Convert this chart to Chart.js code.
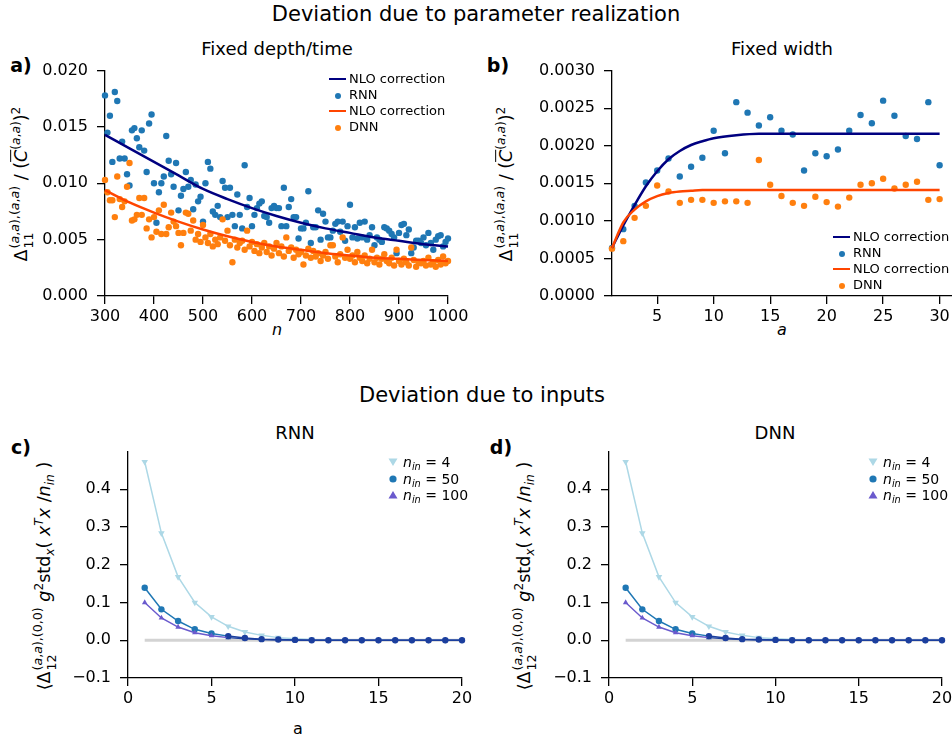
<!DOCTYPE html>
<html>
<head>
<meta charset="utf-8">
<script src="https://cdn.jsdelivr.net/npm/chart.js@4.4.1/dist/chart.umd.min.js"></script>
<style>
  body { margin: 0; width: 952px; height: 740px; overflow: hidden; background: #fff; position: relative;
         font-family: "DejaVu Sans", sans-serif; color: #000; }
  canvas { position: absolute; }
  .t { position: absolute; white-space: nowrap; transform: translate(-50%, -50%); }
  .sup { font-size: 21px; }
  .ttl { font-size: 18px; }
  .pl { font-size: 19px; font-weight: bold; }
  .ax { font-size: 16px; }
  .ylab { position: absolute; white-space: nowrap; transform: translate(-50%, -50%) rotate(-90deg); font-size: 17.5px; }
  .ss { display: inline-flex; flex-direction: column; vertical-align: middle; font-size: 0.72em; line-height: 1.1; margin-left: 1px; }
  sup { font-size: 0.7em; vertical-align: 0.55em; line-height: 0; }
  sub { font-size: 0.7em; vertical-align: -0.35em; line-height: 0; }
  .ov { text-decoration: overline; }
  .lg { position: absolute; font-size: 13px; white-space: nowrap; }
  .lg div { height: 16px; line-height: 16px; display: flex; align-items: center; }
  .hl { display: inline-block; width: 17px; height: 2.5px; margin-right: 3px; }
  .hd { display: inline-block; width: 17px; margin-right: 3px; text-align: center; }
  .hd span { display: inline-block; width: 6px; height: 6px; border-radius: 50%; vertical-align: middle; }
  .lgc { font-size: 14px; }
  .lgc div { height: 16.5px; line-height: 16.5px; }
  .mk { width: 12px; margin-right: 4px; display: inline-flex; justify-content: center; }
</style>
</head>
<body>

<div class="t sup" style="left:476px;top:14px">Deviation due to parameter realization</div>
<div class="t sup" style="left:482px;top:395px">Deviation due to inputs</div>

<div class="t pl" style="left:21px;top:65px">a)</div>
<div class="t ttl" style="left:277px;top:48px">Fixed depth/time</div>
<div class="t pl" style="left:498px;top:65px">b)</div>
<div class="t ttl" style="left:782px;top:48px">Fixed width</div>
<div class="t ax" style="left:277px;top:329px"><i>n</i></div>
<div class="t ax" style="left:782px;top:329px"><i>a</i></div>

<div class="t pl" style="left:21px;top:447px">c)</div>
<div class="t ttl" style="left:295px;top:432px">RNN</div>
<div class="t pl" style="left:501px;top:447px">d)</div>
<div class="t ttl" style="left:775px;top:432px">DNN</div>
<div class="t ax" style="left:298px;top:728px">a</div>

<div class="ylab" style="left:22px;top:184px">Δ<span class="ss"><span>(<i>a</i>,<i>a</i>),(<i>a</i>,<i>a</i>)</span><span>11</span></span> / (<span class="ov"><i>C</i></span><sup>(<i>a</i>,<i>a</i>)</sup>)<sup>2</sup></div>
<div class="ylab" style="left:507px;top:184px">Δ<span class="ss"><span>(<i>a</i>,<i>a</i>),(<i>a</i>,<i>a</i>)</span><span>11</span></span> / (<span class="ov"><i>C</i></span><sup>(<i>a</i>,<i>a</i>)</sup>)<sup>2</sup></div>
<div class="ylab" style="left:45px;top:576px">⟨Δ<span class="ss"><span>(<i>a</i>,<i>a</i>),(0,0)</span><span>12</span></span> <i>g</i><sup>2</sup>std<sub><i>x</i></sub>( <i>x</i><sup><i>T</i></sup><i>x</i> /<i>n</i><sub><i>in</i></sub> )</div>
<div class="ylab" style="left:525px;top:576px">⟨Δ<span class="ss"><span>(<i>a</i>,<i>a</i>),(0,0)</span><span>12</span></span> <i>g</i><sup>2</sup>std<sub><i>x</i></sub>( <i>x</i><sup><i>T</i></sup><i>x</i> /<i>n</i><sub><i>in</i></sub> )</div>

<canvas id="cA" width="440" height="278" style="left:40px;top:52px"></canvas>
<canvas id="cB" width="420" height="278" style="left:540px;top:52px"></canvas>
<canvas id="cC" width="430" height="277" style="left:60px;top:433px"></canvas>
<canvas id="cD" width="425" height="277" style="left:541px;top:433px"></canvas>

<div class="lg" style="left:329px;top:71px">
  <div><span class="hl" style="background:#000080"></span>NLO correction</div>
  <div><span class="hd"><span style="background:#1f77b4"></span></span>RNN</div>
  <div><span class="hl" style="background:#ff4500"></span>NLO correction</div>
  <div><span class="hd"><span style="background:#ff7f0e"></span></span>DNN</div>
</div>
<div class="lg" style="left:833px;top:229px">
  <div><span class="hl" style="background:#000080"></span>NLO correction</div>
  <div><span class="hd"><span style="background:#1f77b4"></span></span>RNN</div>
  <div><span class="hl" style="background:#ff4500"></span>NLO correction</div>
  <div><span class="hd"><span style="background:#ff7f0e"></span></span>DNN</div>
</div>
<div class="lg lgc" style="left:387px;top:454px">
  <div><span class="mk"><svg width="10" height="10"><polygon points="0.5,1.5 9.5,1.5 5,9" fill="#add8e6"/></svg></span><span><i>n</i><sub><i>in</i></sub> = 4</span></div>
  <div><span class="mk"><svg width="10" height="10"><circle cx="5" cy="5" r="3.6" fill="#1f77b4"/></svg></span><span><i>n</i><sub><i>in</i></sub> = 50</span></div>
  <div><span class="mk"><svg width="10" height="10"><polygon points="0.5,8.5 9.5,8.5 5,1" fill="#6a5acd"/></svg></span><span><i>n</i><sub><i>in</i></sub> = 100</span></div>
</div>
<div class="lg lgc" style="left:867px;top:454px">
  <div><span class="mk"><svg width="10" height="10"><polygon points="0.5,1.5 9.5,1.5 5,9" fill="#add8e6"/></svg></span><span><i>n</i><sub><i>in</i></sub> = 4</span></div>
  <div><span class="mk"><svg width="10" height="10"><circle cx="5" cy="5" r="3.6" fill="#1f77b4"/></svg></span><span><i>n</i><sub><i>in</i></sub> = 50</span></div>
  <div><span class="mk"><svg width="10" height="10"><polygon points="0.5,8.5 9.5,8.5 5,1" fill="#6a5acd"/></svg></span><span><i>n</i><sub><i>in</i></sub> = 100</span></div>
</div>

<script>
// ---- a) fixed depth/time ----
const nValues = [
  300, 305, 310, 315, 320, 325, 330, 335, 340, 345, 350, 355, 360, 365, 370, 375, 380, 385, 390, 395,
  400, 405, 410, 415, 420, 425, 430, 435, 440, 445, 450, 455, 460, 465, 470, 475, 480, 485, 490, 495,
  500, 505, 510, 515, 520, 525, 530, 535, 540, 545, 550, 555, 560, 565, 570, 575, 580, 585, 590, 595,
  600, 605, 610, 615, 620, 625, 630, 635, 640, 645, 650, 655, 660, 665, 670, 675, 680, 685, 690, 695,
  700, 705, 710, 715, 720, 725, 730, 735, 740, 745, 750, 755, 760, 765, 770, 775, 780, 785, 790, 795,
  800, 805, 810, 815, 820, 825, 830, 835, 840, 845, 850, 855, 860, 865, 870, 875, 880, 885, 890, 895,
  900, 905, 910, 915, 920, 925, 930, 935, 940, 945, 950, 955, 960, 965, 970, 975, 980, 985, 990, 995,
  1000
];
const rnnDepth = [
  0.0178, 0.0145, 0.0160, 0.0119, 0.0181, 0.0173, 0.0122, 0.0137, 0.0122, 0.0108,
  0.0098, 0.0147, 0.0149, 0.0140, 0.0132, 0.0147, 0.0129, 0.0110, 0.0153, 0.0161,
  0.0100, 0.0065, 0.0092, 0.0100, 0.0106, 0.0142, 0.0120, 0.0108, 0.0097, 0.0118,
  0.0076, 0.0089, 0.0095, 0.0110, 0.0097, 0.0103, 0.0077, 0.0099, 0.0084, 0.0088,
  0.0066, 0.0100, 0.0119, 0.0113, 0.0075, 0.0072, 0.0080, 0.0070, 0.0102, 0.0096,
  0.0070, 0.0096, 0.0072, 0.0062, 0.0090, 0.0072, 0.0060, 0.0116, 0.0079, 0.0087,
  0.0062, 0.0072, 0.0078, 0.0082, 0.0084, 0.0071, 0.0070, 0.0065, 0.0078, 0.0080,
  0.0078, 0.0078, 0.0062, 0.0096, 0.0062, 0.0079, 0.0086, 0.0070, 0.0070, 0.0051,
  0.0060, 0.0060, 0.0065, 0.0093, 0.0047, 0.0061, 0.0061, 0.0076, 0.0050, 0.0073,
  0.0066, 0.0052, 0.0052, 0.0058, 0.0064, 0.0066, 0.0057, 0.0066, 0.0049, 0.0062,
  0.0081, 0.0052, 0.0061, 0.0051, 0.0065, 0.0052, 0.0066, 0.0050, 0.0054, 0.0061,
  0.0045, 0.0052, 0.0050, 0.0048, 0.0061, 0.0060, 0.0058, 0.0055, 0.0052, 0.0038,
  0.0056, 0.0063, 0.0064, 0.0054, 0.0059, 0.0038, 0.0043, 0.0049, 0.0049, 0.0047,
  0.0052, 0.0045, 0.0056, 0.0047, 0.0041, 0.0050, 0.0053, 0.0054, 0.0044, 0.0048,
  0.0051
];
const dnnDepth = [
  0.0103, 0.0092, 0.0085, 0.0085, 0.0070, 0.0106, 0.0086, 0.0079, 0.0084, 0.0097,
  0.0118, 0.0067, 0.0068, 0.0072, 0.0087, 0.0072, 0.0087, 0.0060, 0.0068, 0.0052,
  0.0070, 0.0057, 0.0076, 0.0055, 0.0081, 0.0055, 0.0061, 0.0074, 0.0066, 0.0062,
  0.0056, 0.0045, 0.0056, 0.0074, 0.0073, 0.0058, 0.0067, 0.0050, 0.0055, 0.0048,
  0.0063, 0.0052, 0.0047, 0.0055, 0.0044, 0.0050, 0.0046, 0.0052, 0.0068, 0.0049,
  0.0058, 0.0045, 0.0030, 0.0050, 0.0043, 0.0047, 0.0049, 0.0041, 0.0058, 0.0044,
  0.0048, 0.0040, 0.0046, 0.0038, 0.0043, 0.0047, 0.0039, 0.0044, 0.0036, 0.0042,
  0.0047, 0.0038, 0.0044, 0.0035, 0.0052, 0.0040, 0.0043, 0.0034, 0.0041, 0.0037,
  0.0039, 0.0028, 0.0036, 0.0042, 0.0034, 0.0040, 0.0035, 0.0038, 0.0031, 0.0036,
  0.0039, 0.0033, 0.0045, 0.0045, 0.0035, 0.0030, 0.0037, 0.0052, 0.0034, 0.0041,
  0.0033, 0.0036, 0.0030, 0.0039, 0.0034, 0.0031, 0.0036, 0.0029, 0.0033, 0.0041,
  0.0030, 0.0034, 0.0028, 0.0033, 0.0037, 0.0031, 0.0029, 0.0034, 0.0027, 0.0041,
  0.0031, 0.0028, 0.0033, 0.0030, 0.0027, 0.0043, 0.0032, 0.0026, 0.0030, 0.0029,
  0.0031, 0.0027, 0.0034, 0.0028, 0.0030, 0.0026, 0.0032, 0.0028, 0.0035, 0.0029,
  0.0031
];
const nloN = [300, 350, 400, 450, 500, 550, 600, 650, 700, 750, 800, 850, 900, 950, 1000];
const nloRnnDepth = [0.0143, 0.0131, 0.0119, 0.0107, 0.0095, 0.0086, 0.0078, 0.0071, 0.0065, 0.0060, 0.0056, 0.0052, 0.0049, 0.0046, 0.0044];
const nloDnnDepth = [0.0094, 0.0083, 0.0074, 0.0066, 0.0059, 0.0053, 0.0048, 0.0044, 0.0041, 0.0038, 0.0036, 0.0034, 0.0033, 0.0032, 0.0031];
const xTicksA = [300, 400, 500, 600, 700, 800, 900, 1000];
const yTicksA = [0, 0.005, 0.010, 0.015, 0.020];

// ---- b) fixed width ----
const widthA = [1, 2, 3, 4, 5, 6, 7, 8, 9, 10, 11, 12, 13, 14, 15, 16, 17, 18, 19, 20, 21, 22, 23, 24, 25, 26, 27, 28, 29, 30];
const rnnWidth = [
  0.00064, 0.00089, 0.00120, 0.00151, 0.00167, 0.00183, 0.00159, 0.00172, 0.00184, 0.00220,
  0.00190, 0.00258, 0.00244, 0.00227, 0.00238, 0.00220, 0.00215, 0.00167, 0.00190, 0.00186,
  0.00195, 0.00220, 0.00241, 0.00230, 0.00260, 0.00240, 0.00213, 0.00209, 0.00258, 0.00174
];
const dnnWidth = [
  0.00063, 0.00073, 0.00104, 0.00120, 0.00147, 0.00139, 0.00124, 0.00128, 0.00128, 0.00124,
  0.00126, 0.00126, 0.00124, 0.00181, 0.00148, 0.00133, 0.00124, 0.00120, 0.00132, 0.00125,
  0.00119, 0.00131, 0.00148, 0.00150, 0.00156, 0.00143, 0.00148, 0.00152, 0.00128, 0.00129
];
const nloA = [1, 2, 3, 4, 5, 6, 7, 8, 9, 10, 12, 14, 16, 20, 25, 30];
const nloRnnWidth = [0.00064, 0.00094, 0.00121, 0.00146, 0.00166, 0.00182, 0.00193, 0.00201, 0.00206, 0.00210, 0.00214, 0.00216, 0.00216, 0.00216, 0.00216, 0.00216];
const nloDnnWidth = [0.00064, 0.00098, 0.00115, 0.00126, 0.00133, 0.00137, 0.00139, 0.00140, 0.00141, 0.00141, 0.00141, 0.00141, 0.00141, 0.00141, 0.00141, 0.00141];
const xTicksB = [5, 10, 15, 20, 25, 30];
const yTicksB = [0, 0.0005, 0.0010, 0.0015, 0.0020, 0.0025, 0.0030];

// ---- c) / d) deviation due to inputs ----
const inputA = [1, 2, 3, 4, 5, 6, 7, 8, 9, 10, 11, 12, 13, 14, 15, 16, 17, 18, 19, 20];
const rnnIn4 = [0.473, 0.284, 0.168, 0.100, 0.062, 0.037, 0.022, 0.013, 0.007, 0.004, 0.002, 0.001, 0.001, 0, 0, 0, 0, 0, 0, 0];
const rnnIn50 = [0.139, 0.082, 0.051, 0.029, 0.018, 0.011, 0.006, 0.003, 0.002, 0.001, 0, 0, 0, 0, 0, 0, 0, 0, 0, 0];
const rnnIn100 = [0.100, 0.059, 0.035, 0.020, 0.012, 0.007, 0.004, 0.002, 0.001, 0.001, 0, 0, 0, 0, 0, 0, 0, 0, 0, 0];
const dnnIn4 = [0.473, 0.284, 0.168, 0.100, 0.062, 0.037, 0.022, 0.013, 0.007, 0.004, 0.002, 0.001, 0.001, 0, 0, 0, 0, 0, 0, 0];
const dnnIn50 = [0.139, 0.082, 0.051, 0.029, 0.018, 0.011, 0.006, 0.003, 0.002, 0.001, 0, 0, 0, 0, 0, 0, 0, 0, 0, 0];
const dnnIn100 = [0.100, 0.059, 0.035, 0.020, 0.012, 0.007, 0.004, 0.002, 0.001, 0.001, 0, 0, 0, 0, 0, 0, 0, 0, 0, 0];
const zeroLineA = [1, 20];
const zeroLineY = [0, 0];
const xTicksC = [0, 5, 10, 15, 20];
const yTicksC = [-0.1, 0, 0.1, 0.2, 0.3, 0.4];

const NAVY = '#000080', ORED = '#ff4500', BLUE = '#1f77b4', ORANGE = '#ff7f0e';
const LIGHT = '#add8e6', SLATE = '#6a5acd', TAIL = '#1c3f9e';

Chart.defaults.font.family = '"DejaVu Sans", sans-serif';
Chart.defaults.font.size = 16;
Chart.defaults.color = '#000';

const pts = (xs, ys) => xs.map((x, i) => ({ x: x, y: ys[i] }));

function axisOpts(cfg) {
  const tickGrid = { display: true, drawOnChartArea: false, drawTicks: true, tickLength: 8, color: '#000', lineWidth: 1.3 };
  const border = { display: true, color: '#000', width: 1.3 };
  return {
    responsive: false,
    animation: false,
    events: [],
    layout: { padding: cfg.padding },
    plugins: { legend: { display: false }, tooltip: { enabled: false } },
    scales: {
      x: {
        type: 'linear', min: cfg.xMin, max: cfg.xMax,
        grid: tickGrid, border: border,
        ticks: { padding: 3, maxRotation: 0, callback: v => String(v) },
        afterBuildTicks: s => { s.ticks = cfg.xTicks.map(v => ({ value: v })); },
        afterFit: s => { s.height = cfg.xHeight; }
      },
      y: {
        type: 'linear', min: cfg.yMin, max: cfg.yMax,
        grid: tickGrid, border: border,
        ticks: { padding: 9, callback: cfg.yFmt },
        afterBuildTicks: s => { s.ticks = cfg.yTicks.map(v => ({ value: v })); },
        afterFit: s => { s.width = cfg.yWidth; }
      }
    }
  };
}

function curve(xs, ys, color, order) {
  return { data: pts(xs, ys), showLine: true, pointRadius: 0, borderColor: color, borderWidth: 2.5,
           cubicInterpolationMode: 'monotone', order: order, clip: false };
}
function dots(xs, ys, color, order) {
  return { data: pts(xs, ys), showLine: false, pointRadius: 3.2, pointBorderWidth: 0,
           backgroundColor: color, borderColor: color, order: order, clip: false };
}

new Chart(document.getElementById('cA'), {
  type: 'scatter',
  data: { datasets: [
    curve(nloN, nloRnnDepth, NAVY, 1),
    dots(nValues, rnnDepth, BLUE, 3),
    curve(nloN, nloDnnDepth, ORED, 0),
    dots(nValues, dnnDepth, ORANGE, 2)
  ] },
  options: axisOpts({ padding: { top: 0, right: 32, left: 0, bottom: 0 }, xMin: 300, xMax: 1000, xTicks: xTicksA,
    yMin: 0, yMax: 0.020, yTicks: yTicksA, yFmt: v => v.toFixed(3), yWidth: 65, xHeight: 34 })
});

new Chart(document.getElementById('cB'), {
  type: 'scatter',
  data: { datasets: [
    curve(nloA, nloRnnWidth, NAVY, 1),
    dots(widthA, rnnWidth, BLUE, 3),
    curve(nloA, nloDnnWidth, ORED, 0),
    dots(widthA, dnnWidth, ORANGE, 2)
  ] },
  options: axisOpts({ padding: { top: 0, right: 4, left: 0, bottom: 0 }, xMin: 1, xMax: 31.45, xTicks: xTicksB,
    yMin: 0, yMax: 0.0030, yTicks: yTicksB, yFmt: v => v.toFixed(4), yWidth: 72, xHeight: 34 })
});

function inputSeries(xs, ys, color, style, rot, radius, order) {
  return {
    data: pts(xs, ys), showLine: true, borderWidth: 1.5, order: order, clip: false,
    pointStyle: style, rotation: rot, pointRadius: radius, pointBorderWidth: 0,
    borderColor: color, backgroundColor: color,
    pointBackgroundColor: color === LIGHT ? color : (c => c.dataIndex >= 5 ? TAIL : color),
    segment: color === LIGHT ? {} : { borderColor: c => c.p0DataIndex >= 5 ? TAIL : color }
  };
}

function inputChart(id, s4, s50, s100, pad) {
  new Chart(document.getElementById(id), {
    type: 'scatter',
    data: { datasets: [
      { data: pts(zeroLineA, zeroLineY), showLine: true, pointRadius: 0, borderColor: '#d3d3d3', borderWidth: 3, order: 4 },
      inputSeries(inputA, s4, LIGHT, 'triangle', 180, 3.8, 3),
      inputSeries(inputA, s50, BLUE, 'circle', 0, 3.2, 2),
      inputSeries(inputA, s100, SLATE, 'triangle', 0, 3.2, 1)
    ] },
    options: axisOpts({ padding: pad, xMin: 0, xMax: 20, xTicks: xTicksC,
      yMin: -0.1, yMax: 0.5, yTicks: yTicksC,
      yFmt: v => (v < 0 ? '\u2212' + Math.abs(v).toFixed(1) : v.toFixed(1)), yWidth: 68, xHeight: 32 })
  });
}

inputChart('cC', rnnIn4, rnnIn50, rnnIn100, { top: 0, right: 28, left: 0, bottom: 0 });
inputChart('cD', dnnIn4, dnnIn50, dnnIn100, { top: 0, right: 24, left: 0, bottom: 0 });
</script>
</body>
</html>
